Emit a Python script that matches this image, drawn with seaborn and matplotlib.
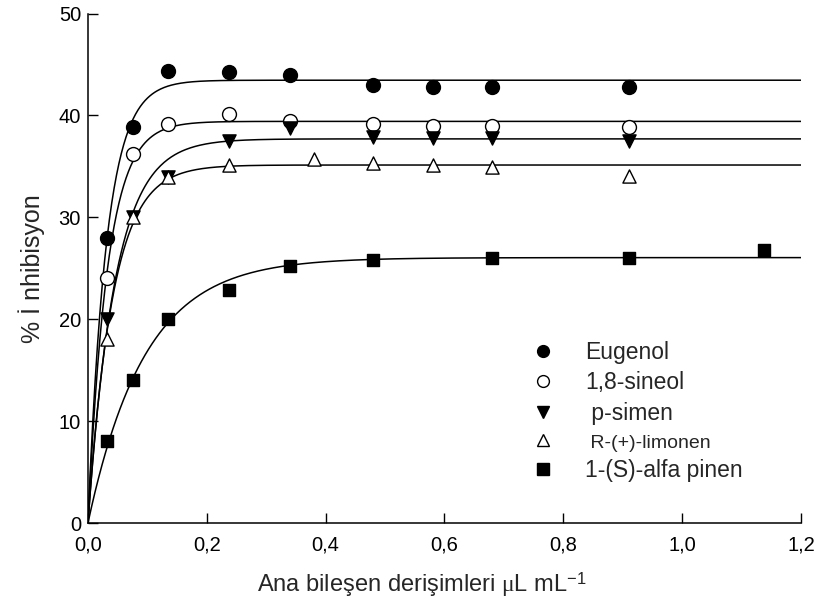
import numpy as np
import pandas as pd
import matplotlib
matplotlib.use("Agg")
import matplotlib.pyplot as plt
import seaborn as sns
from matplotlib import font_manager

# ---- data ----
x_main = [0.032, 0.075, 0.135, 0.237, 0.34, 0.48, 0.58, 0.68, 0.91]
eugenol = [28.0, 38.9, 44.4, 44.3, 44.0, 43.0, 42.8, 42.8, 42.8]
sineol = [24.0, 36.2, 39.2, 40.1, 39.5, 39.2, 39.0, 39.0, 38.9]
simen = [20.0, 30.0, 34.0, 37.5, 38.8, 37.9, 37.8, 37.8, 37.5]
x_limonen = [0.032, 0.075, 0.135, 0.237, 0.38, 0.48, 0.58, 0.68, 0.91]
limonen = [18.1, 30.0, 34.0, 35.1, 35.7, 35.3, 35.1, 34.9, 34.1]
x_pinen = [0.032, 0.075, 0.135, 0.237, 0.34, 0.48, 0.68, 0.91, 1.137]
pinen = [8.0, 14.0, 20.0, 22.9, 25.2, 25.8, 26.0, 26.0, 26.8]

labels = ["Eugenol", "1,8-sineol", " p-simen", " R-(+)-limonen", "1-(S)-alfa pinen"]
x_ticks = [0.0, 0.2, 0.4, 0.6, 0.8, 1.0, 1.2]
x_ticklabels = ["0,0", "0,2", "0,4", "0,6", "0,8", "1,0", "1,2"]
y_ticks = [0, 10, 20, 30, 40, 50]

series = [
    (x_main, eugenol, "o", "black"),
    (x_main, sineol, "o", "white"),
    (x_main, simen, "v", "black"),
    (x_limonen, limonen, "^", "white"),
    (x_pinen, pinen, "s", "black"),
]

sns.set_theme(style="ticks")
plt.rcParams["font.family"] = ["Liberation Sans", "DejaVu Sans"]
plt.rcParams["mathtext.fontset"] = "custom"
plt.rcParams["mathtext.rm"] = "Liberation Sans"
plt.rcParams["mathtext.it"] = "Liberation Serif"
plt.rcParams["mathtext.bf"] = "Liberation Sans:bold"

fig = plt.figure(figsize=(8.19, 6.09), dpi=100)
ax = fig.add_axes([0.1074, 0.1412, 0.8706, 0.8366])


def fit_exp(x, y):
    x = np.asarray(x, float)
    y = np.asarray(y, float)
    best = None
    for b in np.linspace(1, 80, 8000):
        f = 1 - np.exp(-b * x)
        a = np.sum(y * f) / np.sum(f * f)
        sse = np.sum((y - a * f) ** 2)
        if best is None or sse < best[0]:
            best = (sse, a, b)
    return best[1], best[2]


xs = np.linspace(0, 1.2, 600)
handles = []
for (xv, yv, mk, fc), lab in zip(series, labels):
    a, b = fit_exp(xv, yv)
    curve = pd.DataFrame({"x": xs, "y": a * (1 - np.exp(-b * xs))})
    sns.lineplot(data=curve, x="x", y="y", ax=ax, color="black", lw=1.1, zorder=2)
    df = pd.DataFrame({"x": xv, "y": yv})
    ms = 100 if mk == "o" else 90
    if mk == "s":
        ms = 80
    sns.scatterplot(data=df, x="x", y="y", ax=ax, marker=mk, s=ms,
                    facecolor=fc, edgecolor="black", linewidth=1.0, zorder=3)
    h = plt.Line2D([], [], linestyle="none", marker=mk, markersize=8.5,
                   markerfacecolor=fc, markeredgecolor="black", markeredgewidth=1.0)
    handles.append(h)

ax.set_xlim(0, 1.2)
ax.set_ylim(0, 50)
ax.set_xticks(x_ticks)
ax.set_xticklabels(x_ticklabels)
ax.set_yticks(y_ticks)
ax.tick_params(axis="both", direction="in", length=7, width=1, labelsize=14.5, colors="black")
ax.tick_params(axis="x", pad=9)
ax.tick_params(axis="y", pad=5)
for s in ["top", "right"]:
    ax.spines[s].set_visible(False)
for s in ["left", "bottom"]:
    ax.spines[s].set_linewidth(1.1)
    ax.spines[s].set_color("black")

ax.set_xlabel(r"Ana bileşen derişimleri $\mu$L mL$^{-1}$", fontsize=17)
ax.xaxis.set_label_coords(0.468, -0.092)
ax.set_ylabel("% İ nhibisyon", fontsize=18, labelpad=10)

leg = ax.legend(handles, labels, loc="upper left", bbox_to_anchor=(0.622, 0.357),
                frameon=False, fontsize=16.5, handletextpad=1.33, labelspacing=0.32,
                handlelength=1.0, borderaxespad=0, borderpad=0)
names = [f.name for f in font_manager.fontManager.ttflist]
for t in leg.get_texts():
    if "limonen" in t.get_text():
        if "Liberation Sans Narrow" in names:
            t.set_family(["Liberation Sans Narrow", "DejaVu Sans"])
            t.set_fontsize(16)
        else:
            t.set_fontsize(14)

fig.savefig("out.png", dpi=100)
